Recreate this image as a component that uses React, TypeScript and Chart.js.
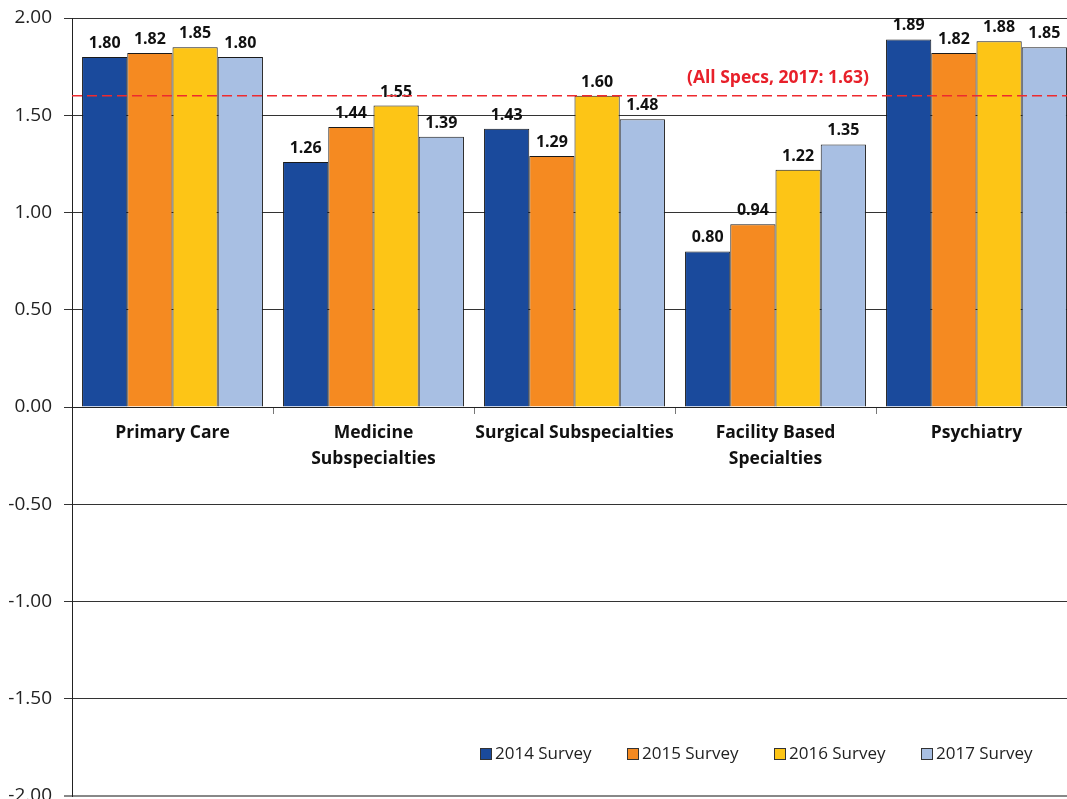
import React, { useEffect, useRef } from 'react';
import { Chart, registerables } from 'chart.js';

Chart.register(...registerables);

const categories: (string | string[])[] = [
  'Primary Care',
  ['Medicine', 'Subspecialties'],
  'Surgical Subspecialties',
  ['Facility Based', 'Specialties'],
  'Psychiatry',
];
const seriesNames = ['2014 Survey', '2015 Survey', '2016 Survey', '2017 Survey'];
const survey2014 = [1.8, 1.26, 1.43, 0.8, 1.89];
const survey2015 = [1.82, 1.44, 1.29, 0.94, 1.82];
const survey2016 = [1.85, 1.55, 1.6, 1.22, 1.88];
const survey2017 = [1.8, 1.39, 1.48, 1.35, 1.85];
const yTickValues = [-2, -1.5, -1, -0.5, 0, 0.5, 1, 1.5, 2];
const referenceValue = 1.6;
const referenceLabel = '(All Specs, 2017: 1.63)';

const seriesColors = ['#1A4A9C', '#F58A21', '#FDC516', '#A8BFE3'];
const FONT = "'Open Sans', 'Noto Sans', sans-serif";

const overlayPlugin = {
  id: 'overlay',
  afterDatasetsDraw(chart: any) {
    const ctx = chart.ctx;
    const area = chart.chartArea;
    const x = chart.scales.x;
    const y = chart.scales.y;
    ctx.save();
    // data labels
    ctx.font = `bold 16px ${FONT}`;
    ctx.fillStyle = '#111';
    ctx.textAlign = 'center';
    ctx.textBaseline = 'alphabetic';
    chart.data.datasets.forEach((ds: any, di: number) => {
      const meta = chart.getDatasetMeta(di);
      meta.data.forEach((bar: any, i: number) => {
        ctx.fillText(Number(ds.data[i]).toFixed(2), bar.x, bar.y - 9);
      });
    });
    // reference line
    const ry = y.getPixelForValue(referenceValue);
    ctx.strokeStyle = '#EE2A2F';
    ctx.lineWidth = 1.5;
    ctx.setLineDash([10, 5]);
    ctx.beginPath();
    ctx.moveTo(area.left, ry);
    ctx.lineTo(area.right, ry);
    ctx.stroke();
    ctx.setLineDash([]);
    // reference label
    const boundary = (x.getPixelForValue(3) + x.getPixelForValue(4)) / 2;
    ctx.font = `bold 17.5px ${FONT}`;
    ctx.fillStyle = '#E8202A';
    ctx.textAlign = 'right';
    ctx.textBaseline = 'middle';
    ctx.fillText(referenceLabel, boundary - 7, ry - 18);
    // legend
    ctx.font = `17px ${FONT}`;
    ctx.textAlign = 'left';
    ctx.textBaseline = 'middle';
    const ly = area.bottom - 42;
    const startX = area.right - 597;
    seriesNames.forEach((name, i) => {
      const bx = startX + i * 147;
      ctx.fillStyle = seriesColors[i];
      ctx.fillRect(bx, ly - 6, 12, 12);
      ctx.strokeStyle = '#333';
      ctx.lineWidth = 1;
      ctx.strokeRect(bx + 0.5, ly - 5.5, 11, 11);
      ctx.fillStyle = '#222';
      ctx.fillText(name, bx + 15, ly);
    });
    ctx.restore();
  },
};

function App() {
  const canvasRef = useRef<HTMLCanvasElement | null>(null);

  useEffect(() => {
    const canvas = canvasRef.current;
    if (!canvas) return;
    const seriesValues = [survey2014, survey2015, survey2016, survey2017];
    const chart = new Chart(canvas, {
      type: 'bar',
      data: {
        labels: categories,
        datasets: seriesNames.map((name, i) => ({
          label: name,
          data: seriesValues[i],
          backgroundColor: seriesColors[i],
          borderColor: '#1a1a1a',
          borderWidth: 1,
          categoryPercentage: 0.9,
          barPercentage: 1.0,
        })),
      },
      options: {
        responsive: false,
        animation: false,
        layout: { padding: { top: 18, left: 0, right: 8, bottom: 24 } },
        plugins: {
          legend: { display: false },
          tooltip: { enabled: false },
        },
        scales: {
          x: {
            position: { y: 0 } as any,
            afterFit: (scale: any) => {
              scale.paddingTop = 0;
              scale.paddingBottom = 0;
              scale.paddingLeft = 0;
              scale.paddingRight = 0;
            },
            grid: {
              display: true,
              drawOnChartArea: false,
              drawTicks: true,
              tickLength: 6,
              color: '#777',
              offset: true,
            },
            border: { display: true, color: '#222', width: 1 },
            ticks: {
              color: '#111',
              padding: 7,
              font: { family: FONT, size: 17.5, weight: 'bold', lineHeight: 1.5 },
              maxRotation: 0,
              autoSkip: false,
            },
          },
          y: {
            min: -2,
            max: 2,
            afterFit: (scale: any) => {
              scale.width = 72;
              scale.paddingTop = 0;
              scale.paddingBottom = 0;
            },
            afterBuildTicks: (scale: any) => {
              scale.ticks = yTickValues.map((v) => ({ value: v }));
            },
            grid: {
              color: (c: any) => (c.tick && c.tick.value === -2 ? '#888' : '#333'),
              lineWidth: (c: any) => (c.tick && c.tick.value === -2 ? 2 : 1),
              tickLength: 8,
            },
            border: { display: true, color: '#222', width: 1 },
            ticks: {
              color: '#222',
              padding: 12,
              font: { family: FONT, size: 19 },
              callback: (v: any) => Number(v).toFixed(2),
            },
          },
        },
      },
      plugins: [overlayPlugin],
    });
    return () => chart.destroy();
  }, []);

  return (
    <div
      style={{
        position: 'fixed',
        left: 0,
        top: 0,
        width: 1067,
        height: 799,
        overflow: 'hidden',
        background: '#fff',
      }}
    >
      <canvas ref={canvasRef} width={1085} height={820} style={{ display: 'block' }} />
    </div>
  );
}

export default App;
